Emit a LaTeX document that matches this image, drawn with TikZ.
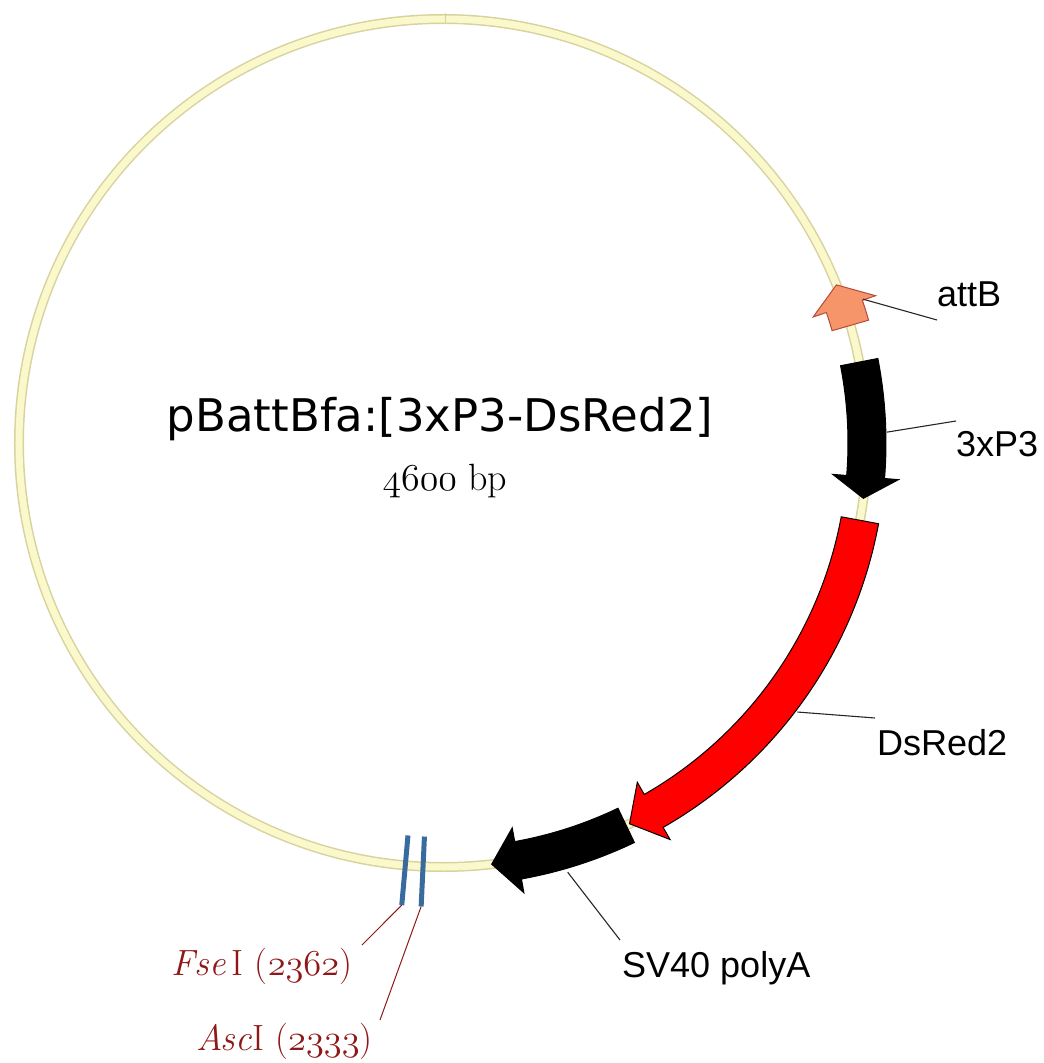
\RequirePackage{fix-cm}
\documentclass[tikz,border=0pt]{standalone}
\usepackage{fontspec}
\newfontfamily\featfont{Liberation Sans}
\newfontfamily\namefont{DejaVu Sans}
% old-style figures from the math italic font
\newcommand\osnum[1]{{\fontencoding{OML}\fontfamily{cmm}\fontseries{m}\fontshape{it}\selectfont #1}}
\definecolor{bbfill}{HTML}{FBF9CB}
\definecolor{bbedge}{HTML}{D6D39E}
\definecolor{attbfill}{HTML}{F7956A}
\definecolor{attbedge}{HTML}{B44A3C}
\definecolor{sitecol}{HTML}{3A6B9F}
\definecolor{enzred}{HTML}{8E1717}
\tikzset{
  featshape/.style={line width=1pt, line join=miter},
  leader/.style={draw=black!85, line width=1.1pt},
  siteleader/.style={draw=enzred, line width=1pt},
  sitemark/.style={draw=sitecol, line width=5pt},
  featlabel/.style={font=\featfont\fontsize{36}{40}\selectfont, inner sep=0pt},
  enzlabel/.style={font=\fontsize{36.5}{40}\selectfont, text=enzred, inner sep=0pt}
}
% arc arrow: #1 style, #2 tail angle, #3 head base angle, #4 tip angle
\newcommand\featarrow[4]{%
  \path[#1] (#2:443pt) arc[start angle=#2, end angle=#3, radius=443pt]
    -- (#3:457pt) -- (#4:424pt) -- (#3:391pt) -- (#3:405pt)
    arc[start angle=#3, end angle=#2, radius=405pt] -- cycle;}
\begin{document}
\begin{tikzpicture}[x=1pt,y=1pt]
\useasboundingbox (-443,-620) rectangle (601,443);

% plasmid backbone
\draw[bbedge, line width=10pt] (0,0) circle (424pt);
\draw[bbfill, line width=7pt] (0,0) circle (424pt);
\draw[bbedge, line width=1pt] (3,419) -- (3,430);

% features
\featarrow{featshape, fill=attbfill, draw=attbedge}{16.1}{18.8}{21.9}
\featarrow{featshape, fill=black, draw=black}{11.0}{-4.6}{-7.5}
\featarrow{featshape, fill=red, draw=black}{-10.5}{-60.2}{-63.9}
\featarrow{featshape, fill=black, draw=black}{-64.4}{-79.8}{-83.4}

% restriction sites
\draw[sitemark] (-95.1:394pt) -- (-95.1:464pt) coordinate (fse-end);
\draw[sitemark] (-92.7:394pt) -- (-92.7:464pt) coordinate (asc-end);

% leader anchor points
\coordinate (attb-pt) at (18.9:444pt);
\coordinate (p3-pt) at (1.4:444pt);
\coordinate (ds-pt) at (-37.2:445pt);
\coordinate (sv-pt) at (-73.8:447pt);
\coordinate (attb-lead) at (494,123);
\coordinate (p3-lead) at (513,22);
\coordinate (ds-lead) at (432,-275);
\coordinate (sv-lead) at (177,-497);
\coordinate (fse-lead) at (-81,-502);
\coordinate (asc-lead) at (-63,-577);

% labels
\node[featlabel, anchor=base west] (lab-attb) at (494,136) {attB};
\node[featlabel, anchor=base west] (lab-p3) at (513,-13) {3xP3};
\node[featlabel, anchor=base west] (lab-ds) at (434,-312) {DsRed2};
\node[featlabel, anchor=base west] (lab-sv) at (179,-534) {SV40 polyA};
\node[enzlabel, anchor=base west] (lab-fse) at (-272,-532) {\textit{Fse}\,I (\osnum{2362})};
\node[enzlabel, anchor=base west] (lab-asc) at (-247,-607) {\textit{Asc}I (\osnum{2333})};

\node[font=\namefont\fontsize{45}{50}\selectfont, anchor=base, inner sep=0pt] (title) at (-3,12) {pBattBfa:[3xP3-DsRed2]};
\node[font=\fontsize{38}{42}\selectfont, anchor=base, inner sep=0pt] (size) at (2,-47) {\osnum{4600} bp};

% leader lines
\draw[leader] (attb-pt) -- (attb-lead);
\draw[leader] (p3-pt) -- (p3-lead);
\draw[leader] (ds-pt) -- (ds-lead);
\draw[leader] (sv-pt) -- (sv-lead);
\draw[siteleader] (fse-end) -- (fse-lead);
\draw[siteleader] (asc-end) -- (asc-lead);
\end{tikzpicture}
\end{document}
